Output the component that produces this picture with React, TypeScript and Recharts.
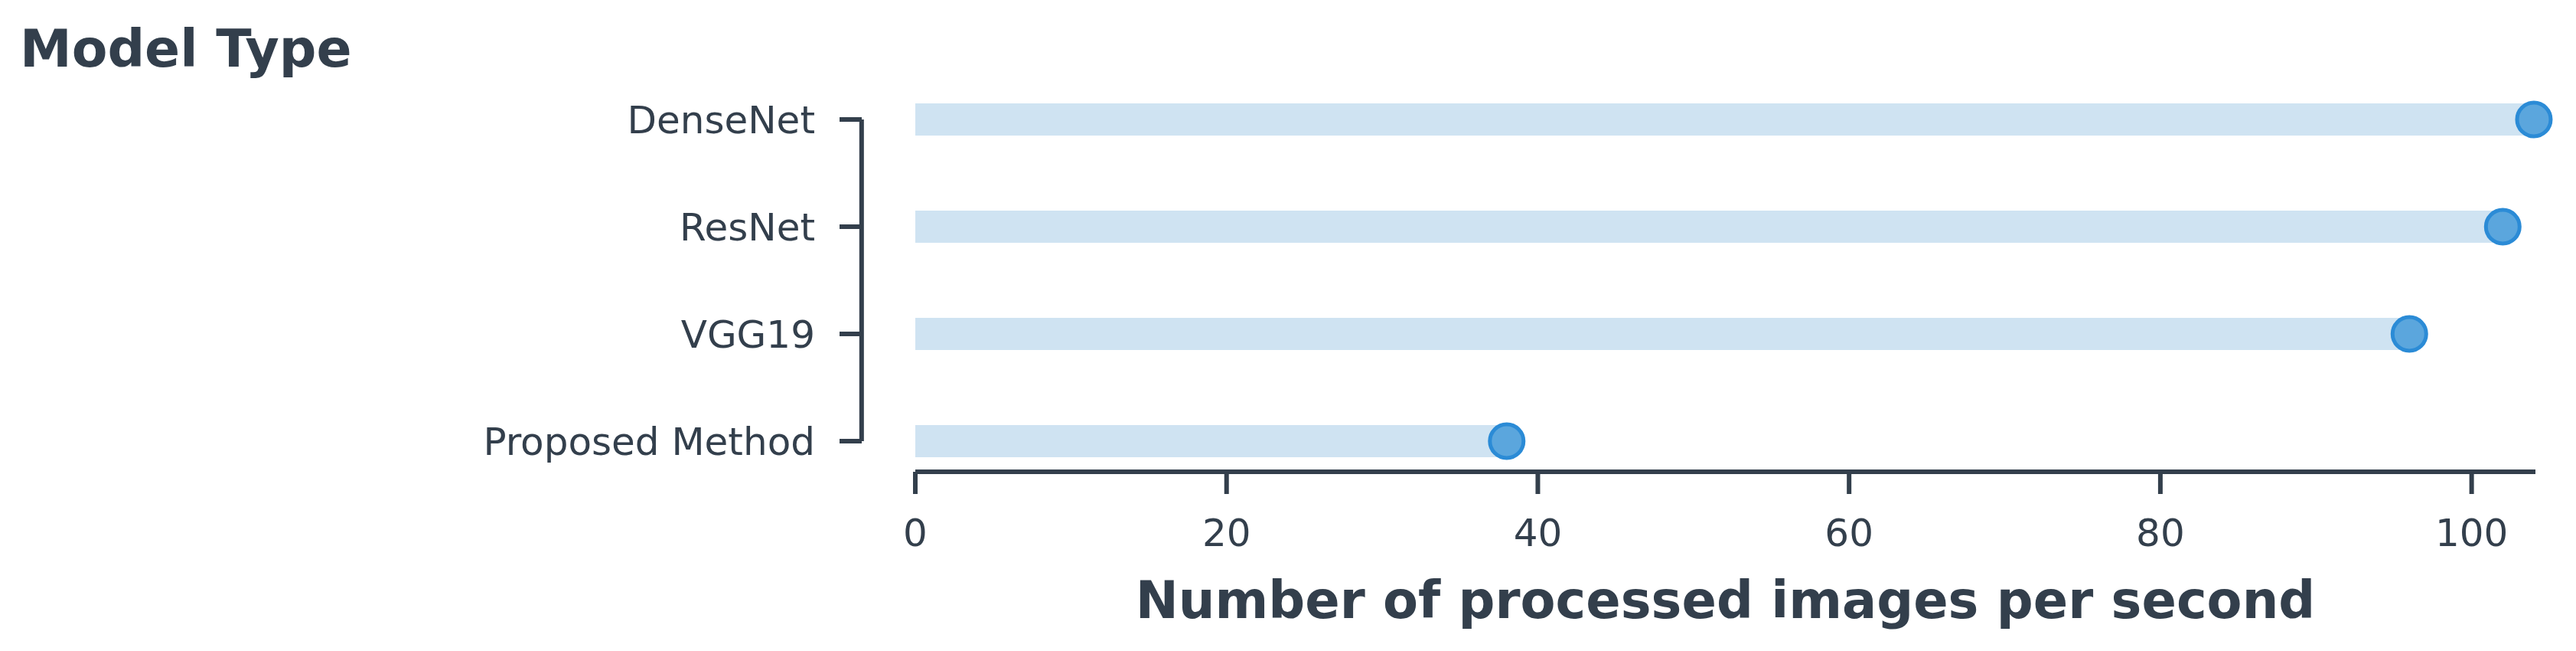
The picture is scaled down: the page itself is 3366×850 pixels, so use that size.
import React from "react"
import { Bar, BarChart, ReferenceLine, XAxis, YAxis } from "recharts"

const models = ["DenseNet", "ResNet", "VGG19", "Proposed Method"]
const imagesPerSecond = [104, 102, 96, 38]
const xTicks = [0, 20, 40, 60, 80, 100]

const data = models.map((name, i) => ({ name, value: imagesPerSecond[i] }))

const INK = "#333f4c"
const BAR_COLOR = "#cfe3f2"
const DOT_FILL = "#5ba6dd"
const DOT_STROKE = "#2b8bd6"
const FONT = "'DejaVu Sans', sans-serif"
const SPINE = 6

function Lollipop(props: any) {
  const { x, y, width, height } = props
  const cy = y + height / 2
  return (
    <g>
      <rect x={x} y={y} width={width} height={height} fill={BAR_COLOR} />
      <circle
        cx={x + width}
        cy={cy}
        r={22}
        fill={DOT_FILL}
        stroke={DOT_STROKE}
        strokeWidth={5}
      />
    </g>
  )
}

// tick mark + label sit left of the plot (offset spine, seaborn style)
function ModelTick(props: any) {
  const { x, y, payload } = props
  return (
    <g>
      <line x1={x - 99} x2={x - 70} y1={y} y2={y} stroke={INK} strokeWidth={SPINE} />
      <text
        x={x - 131}
        y={y}
        dy="0.36em"
        textAnchor="end"
        fill={INK}
        fontSize={50}
        fontFamily={FONT}
      >
        {payload.value}
      </text>
    </g>
  )
}

export default function App() {
  return (
    <div style={{ position: "relative", width: 3366, height: 850, background: "#fff" }}>
      <style>{`body{margin:0}`}</style>
      <div
        style={{
          position: "absolute",
          left: 26,
          top: 30,
          fontFamily: FONT,
          fontWeight: "bold",
          fontSize: 68,
          lineHeight: "68px",
          color: INK,
          whiteSpace: "nowrap",
        }}
      >
        Model Type
      </div>
      <BarChart
        width={3366}
        height={850}
        data={data}
        layout="vertical"
        margin={{ top: 86, right: 53, bottom: 0, left: 0 }}
      >
        <XAxis
          type="number"
          domain={[0, 104.1]}
          ticks={xTicks}
          height={234}
          tickSize={29}
          tickMargin={32}
          axisLine={{ stroke: INK, strokeWidth: SPINE }}
          tickLine={{ stroke: INK, strokeWidth: SPINE }}
          tick={{ fill: INK, fontSize: 50, fontFamily: FONT }}
          label={{
            value: "Number of processed images per second",
            position: "insideBottom",
            offset: 43,
            fill: INK,
            fontSize: 67,
            fontWeight: "bold",
            fontFamily: FONT,
          }}
        />
        <YAxis
          type="category"
          dataKey="name"
          width={1196}
          interval={0}
          padding={{ top: 0, bottom: -30 }}
          axisLine={false}
          tickLine={false}
          tickSize={0}
          tickMargin={0}
          tick={<ModelTick />}
        />
        <ReferenceLine
          segment={[
            { x: -3.45, y: models[0] },
            { x: -3.45, y: models[models.length - 1] },
          ]}
          ifOverflow="visible"
          stroke={INK}
          strokeWidth={SPINE}
        />
        <Bar
          dataKey="value"
          barSize={42}
          shape={<Lollipop />}
          isAnimationActive={false}
        />
      </BarChart>
    </div>
  )
}
